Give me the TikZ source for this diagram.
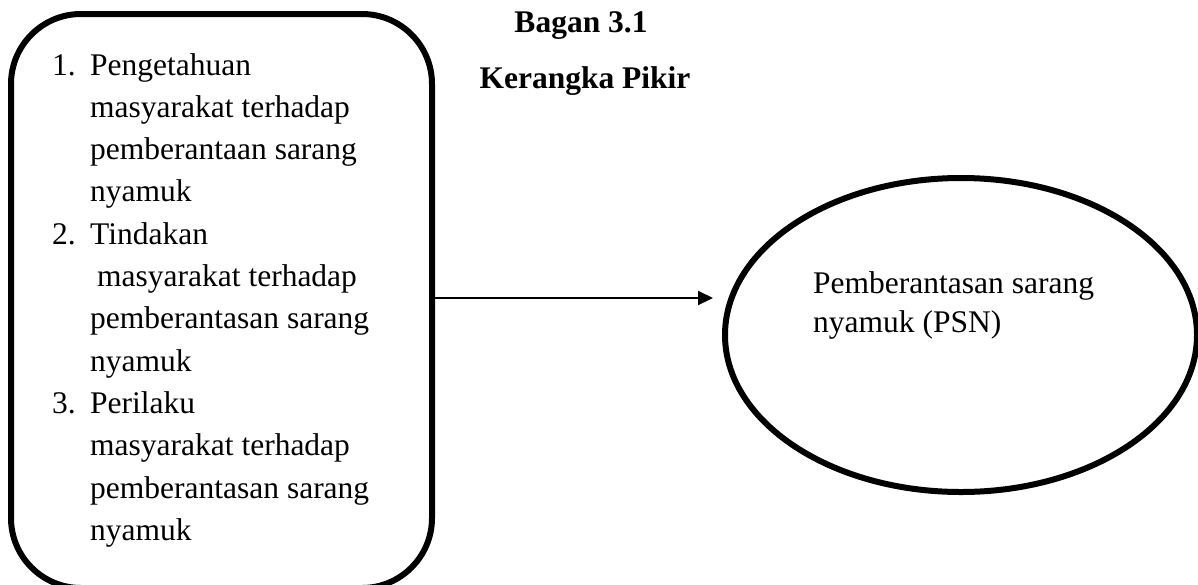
\documentclass[tikz,border=0pt]{standalone}
\usepackage{fontspec}
\setmainfont{Liberation Serif}
\usetikzlibrary{shapes.geometric,arrows.meta}
\begin{document}
\begin{tikzpicture}[x=1pt,y=-1pt,
  txt/.style={anchor=base west, inner sep=0pt, font=\fontsize{31.5}{36}\selectfont},
  ttl/.style={anchor=base, inner sep=0pt, font=\fontsize{31.5}{36}\selectfont\bfseries},
  framebox/.style={draw, line width=6pt, rounded corners=70pt, minimum width=421pt, minimum height=574pt, inner sep=0pt},
  oval/.style={draw, ellipse, line width=6pt, minimum width=472pt, minimum height=314pt, inner sep=0pt},
  conn/.style={line width=2pt, -{Triangle[length=15pt,width=14pt]}}]
\useasboundingbox (0,0) rectangle (1198,584);
% titles
\node[ttl] (t1) at (581,32) {Bagan 3.1};
\node[ttl] (t2) at (585,88) {Kerangka Pikir};
% left box
\node[framebox] (box) at (221.5,301) {};
\node[txt] (n1) at (52,75) {1.};
\node[txt] (l1) at (90,75) {Pengetahuan};
\node[txt] (l2) at (90,117.3) {masyarakat terhadap};
\node[txt] (l3) at (90,159.6) {pemberantaan sarang};
\node[txt] (l4) at (90,201.9) {nyamuk};
\node[txt] (n2) at (52,244.2) {2.};
\node[txt] (l5) at (90,244.2) {Tindakan};
\node[txt] (l6) at (97,286.5) {masyarakat terhadap};
\node[txt] (l7) at (90,328.8) {pemberantasan sarang};
\node[txt] (l8) at (90,371.1) {nyamuk};
\node[txt] (n3) at (52,413.4) {3.};
\node[txt] (l9) at (90,413.4) {Perilaku};
\node[txt] (l10) at (90,455.7) {masyarakat terhadap};
\node[txt] (l11) at (90,498) {pemberantasan sarang};
\node[txt] (l12) at (90,540.3) {nyamuk};
% ellipse
\node[oval] (psn) at (961,335) {};
\node[txt] (p1) at (813,293) {Pemberantasan sarang};
\node[txt] (p2) at (813,332) {nyamuk (PSN)};
% arrow
\coordinate (tip) at (713,298);
\draw[conn] (box.east |- tip) -- (tip);
\end{tikzpicture}
\end{document}
